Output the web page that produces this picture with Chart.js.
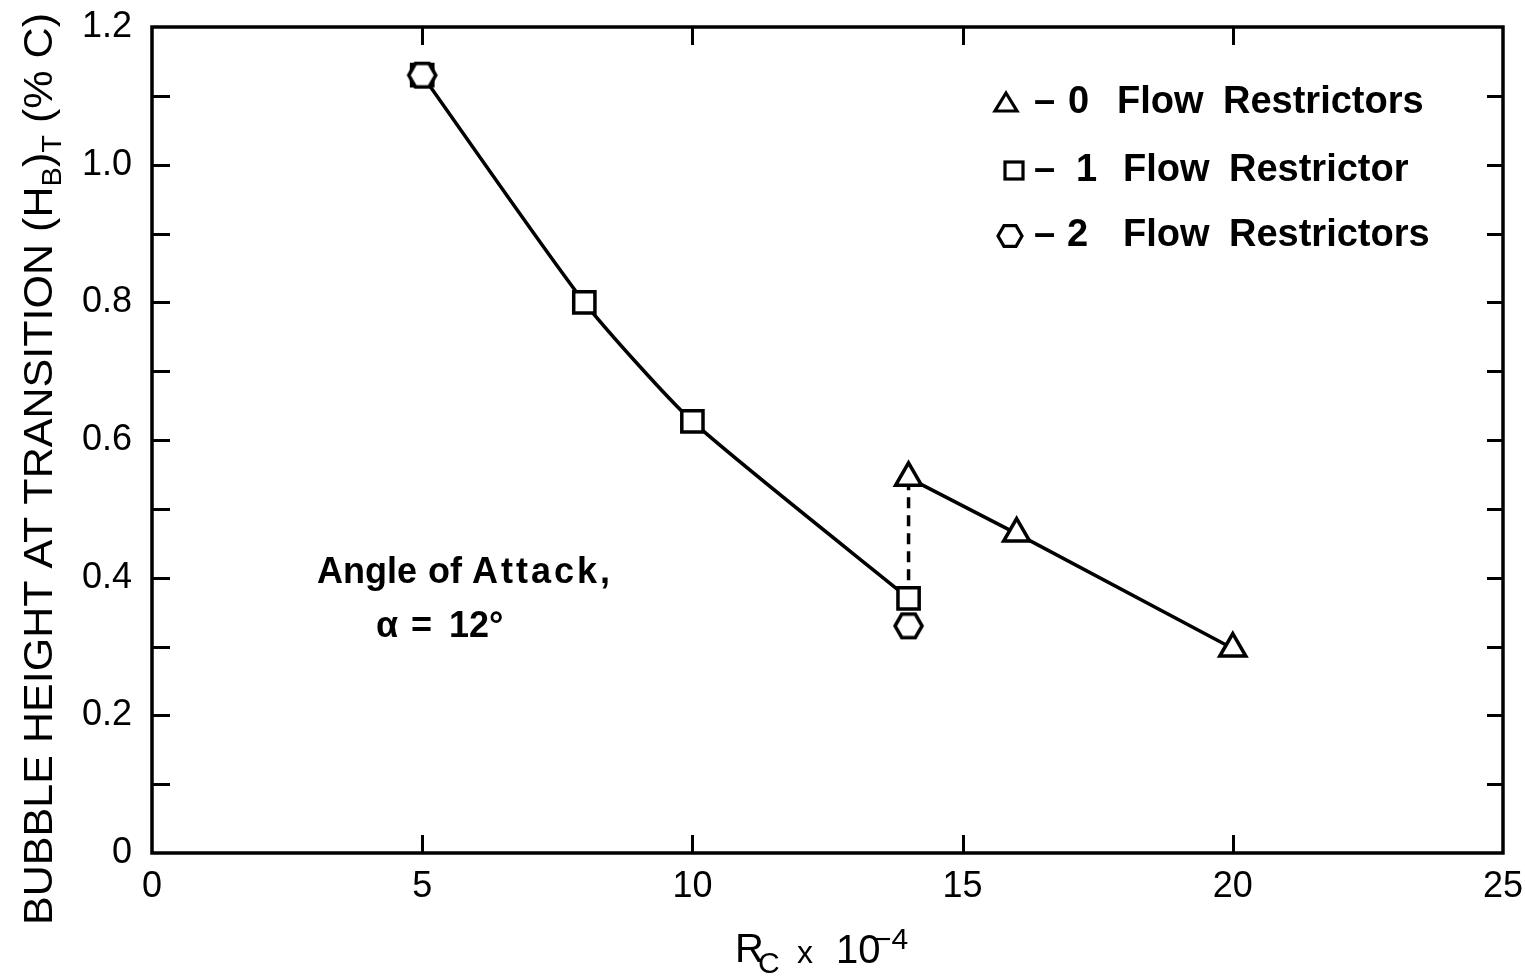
<!DOCTYPE html>
<html>
<head>
<meta charset="utf-8">
<script src="https://cdn.jsdelivr.net/npm/chart.js@4.4.1/dist/chart.umd.min.js"></script>
<style>
  html, body { margin: 0; padding: 0; background: #fff; }
  canvas { display: block; }
</style>
</head>
<body>
<canvas id="chart" width="1525" height="976"></canvas>
<script>
// Data
const squareX = [5, 8, 10, 14];
const squareY = [1.13, 0.80, 0.627, 0.37];
const hexX = [5, 14];
const hexY = [1.13, 0.33];
const triX = [14, 16, 20];
const triY = [0.545, 0.464, 0.297];
const xTickValues = [0, 5, 10, 15, 20, 25];
const yTickLabels = ['0', '0.2', '0.4', '0.6', '0.8', '1.0', '1.2'];
const legendDigits = ['0', '1', '2'];
const legendWords = ['Restrictors', 'Restrictor', 'Restrictors'];

const INK = '#000';
const FONT = '"Liberation Sans", Arial, sans-serif';
const NARROW = '"Liberation Sans Narrow", "Liberation Sans", sans-serif';

function toPoints(xs, ys) {
  return xs.map((x, i) => ({ x: x, y: ys[i] }));
}

// hexagon marker (flat top) drawn once on a small canvas
function hexPath(g, cx, cy, r) {
  g.beginPath();
  for (let k = 0; k < 6; k++) {
    const a = Math.PI / 3 * k;
    const px = cx + r * Math.cos(a), py = cy + r * Math.sin(a);
    if (k === 0) g.moveTo(px, py); else g.lineTo(px, py);
  }
  g.closePath();
}
function makeHexagon(r, lw) {
  const size = Math.ceil(2 * r + lw + 4);
  const c = document.createElement('canvas');
  c.width = size; c.height = size;
  const g = c.getContext('2d');
  hexPath(g, size / 2, size / 2, r);
  g.fillStyle = '#fff';
  g.fill();
  g.lineWidth = lw;
  g.strokeStyle = INK;
  g.stroke();
  return c;
}
const hexImg = makeHexagon(13.5, 3.5);

const decorPlugin = {
  id: 'decor',
  afterDraw(chart) {
    const ctx = chart.ctx;
    const a = chart.chartArea;
    const xs = chart.scales.x, ys = chart.scales.y;
    ctx.save();
    ctx.strokeStyle = INK;
    ctx.fillStyle = INK;

    // frame
    ctx.lineWidth = 3.5;
    ctx.strokeRect(a.left, a.top, a.right - a.left, a.bottom - a.top);

    // inner ticks
    ctx.lineWidth = 3;
    ys.ticks.forEach(t => {
      if (t.value <= 0 || t.value >= 1.2 - 1e-6) return;
      const py = Math.round(ys.getPixelForValue(t.value)) + 0.5;
      ctx.beginPath();
      ctx.moveTo(a.left, py); ctx.lineTo(a.left + 18, py);
      ctx.moveTo(a.right, py); ctx.lineTo(a.right - 16, py);
      ctx.stroke();
    });
    xs.ticks.forEach(t => {
      if (t.value <= 0 || t.value >= 25) return;
      const px = Math.round(xs.getPixelForValue(t.value)) + 0.5;
      ctx.beginPath();
      ctx.moveTo(px, a.bottom); ctx.lineTo(px, a.bottom - 18);
      ctx.moveTo(px, a.top); ctx.lineTo(px, a.top + 18);
      ctx.stroke();
    });

    // legend inside the plot
    const rows = [102, 170, 235];
    ctx.font = 'bold 38px ' + FONT;
    ctx.textBaseline = 'middle';
    ctx.textAlign = 'left';
    rows.forEach((ry, i) => {
      ctx.lineWidth = 3.2;
      if (i === 0) {
        const mx = 1006;
        ctx.beginPath();
        ctx.moveTo(mx, ry - 9); ctx.lineTo(mx + 11, ry + 9); ctx.lineTo(mx - 11, ry + 9);
        ctx.closePath(); ctx.stroke();
      } else if (i === 1) {
        ctx.strokeRect(1005, ry - 8, 18, 17);
      } else {
        hexPath(ctx, 1010, ry + 1, 12);
        ctx.stroke();
      }
      const off = i === 0 ? 0 : 6;
      ctx.fillText('\u2013', 1034, ry + 1);
      ctx.fillText(legendDigits[i], i === 0 ? 1068 : (i === 1 ? 1076 : 1067), ry + 1);
      ctx.fillText('Flow', 1117 + off, ry + 1);
      ctx.fillText(legendWords[i], 1223 + off, ry + 1);
    });

    // annotation
    ctx.font = 'bold 36px ' + FONT;
    ctx.fillText('Angle', 317, 573);
    ctx.fillText('of', 428, 573);
    ctx.letterSpacing = '3px';
    ctx.fillText('Attack,', 472, 573);
    ctx.letterSpacing = '0px';
    ctx.fillText('\u03b1', 376, 627);
    ctx.fillText('=', 411, 627);
    ctx.fillText('12\u00b0', 449, 627);

    // x axis title: R_C x 10^-4
    ctx.textBaseline = 'alphabetic';
    ctx.font = '40px ' + NARROW;
    ctx.fillText('R', 735, 962);
    ctx.font = '30px ' + NARROW;
    ctx.fillText('C', 758, 973);
    ctx.font = '32px ' + NARROW;
    ctx.fillText('x', 797, 963);
    ctx.font = '40px ' + NARROW;
    ctx.fillText('10', 836, 963);
    ctx.font = '30px ' + NARROW;
    ctx.fillText('\u22124', 874, 949);

    // y axis title with subscripts, rotated
    const parts = [
      { t: 'BUBBLE HEIGHT AT TRANSITION (H', s: 40, dy: 0 },
      { t: 'B', s: 27, dy: 9 },
      { t: ')', s: 40, dy: 0 },
      { t: 'T', s: 27, dy: 9 },
      { t: ' (% C)', s: 40, dy: 0 }
    ];
    let total = 0;
    parts.forEach(p => { ctx.font = p.s + 'px ' + FONT; p.w = ctx.measureText(p.t).width; total += p.w; });
    const k = 912 / total;
    ctx.translate(52, 925);
    ctx.rotate(-Math.PI / 2);
    ctx.scale(k, 1);
    let cx = 0;
    parts.forEach(p => {
      ctx.font = p.s + 'px ' + FONT;
      ctx.fillText(p.t, cx, p.dy);
      cx += p.w;
    });
    ctx.restore();
  }
};

const lineStyle = { borderColor: INK, borderWidth: 3.5, pointBorderColor: INK, pointBackgroundColor: '#fff', pointBorderWidth: 3.5 };

new Chart(document.getElementById('chart'), {
  type: 'scatter',
  data: {
    datasets: [
      Object.assign({
        label: '2 Flow Restrictors',
        data: toPoints(hexX, hexY),
        showLine: false,
        pointStyle: hexImg,
        pointRadius: 14
      }, lineStyle),
      Object.assign({
        label: '1 Flow Restrictor',
        data: toPoints(squareX, squareY),
        showLine: true,
        tension: 0.2,
        pointStyle: 'rect',
        pointRadius: 15
      }, lineStyle),
      Object.assign({
        label: '0 Flow Restrictors',
        data: toPoints(triX, triY),
        showLine: true,
        pointStyle: 'triangle',
        pointRadius: 15
      }, lineStyle),
      {
        label: 'jump',
        data: [
          { x: squareX[squareX.length - 1], y: squareY[squareY.length - 1] },
          { x: triX[0], y: triY[0] }
        ],
        showLine: true,
        borderColor: INK,
        borderWidth: 3.5,
        borderDash: [11, 7],
        pointRadius: 0
      }
    ]
  },
  options: {
    responsive: false,
    animation: false,
    layout: { padding: { top: 27, right: 22, left: 0, bottom: 0 } },
    plugins: {
      legend: { display: false },
      tooltip: { enabled: false }
    },
    scales: {
      x: {
        type: 'linear',
        min: 0,
        max: 25,
        grid: { display: false, drawTicks: false },
        border: { display: false },
        afterBuildTicks: s => { s.ticks = xTickValues.map(v => ({ value: v })); },
        afterFit: s => { s.height = 123; s.paddingLeft = 0; s.paddingRight = 0; },
        ticks: {
          color: INK,
          padding: 12,
          font: { family: FONT, size: 36 },
          callback: v => String(v)
        }
      },
      y: {
        type: 'linear',
        min: 0,
        max: 1.2,
        grid: { display: false, drawTicks: false },
        border: { display: false },
        afterFit: s => { s.width = 152; s.paddingTop = 0; s.paddingBottom = 0; },
        ticks: {
          stepSize: 0.1,
          color: INK,
          padding: 20,
          font: { family: FONT, size: 36 },
          autoSkip: false,
          callback: v => {
            const n = Math.round(v * 10);
            return n % 2 === 0 ? yTickLabels[n / 2] : '';
          }
        }
      }
    }
  },
  plugins: [decorPlugin]
});
</script>
</body>
</html>
